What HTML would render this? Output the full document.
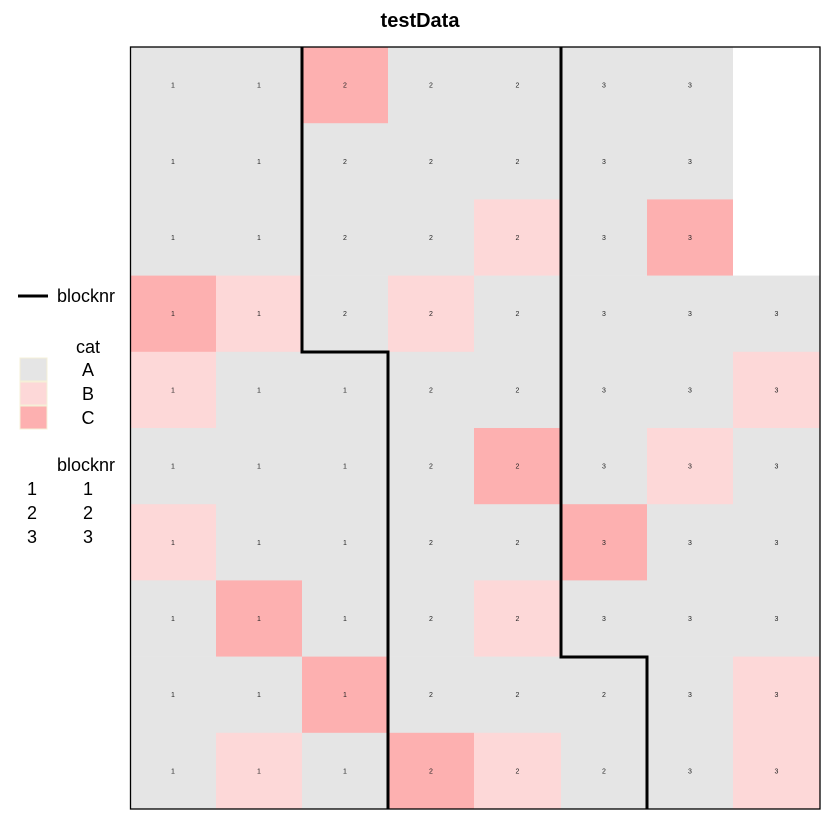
<!DOCTYPE html>
<html><head><meta charset="utf-8"><style>
html,body{margin:0;padding:0;background:#fff;}
svg{display:block;font-family:"Liberation Sans",Arial,sans-serif;}
</style></head><body>
<svg width="840" height="840" viewBox="0 0 840 840" xmlns="http://www.w3.org/2000/svg">
<rect width="840" height="840" fill="#fff"/>
<text x="420" y="27" text-anchor="middle" font-size="20" font-weight="bold" fill="#000">testData</text>
<g id="cells"></g>
<path d="M302,47 V352 H388 V809" fill="none" stroke="#000" stroke-width="3"/>
<path d="M561,47 V657 H647 V809" fill="none" stroke="#000" stroke-width="3"/>
<rect x="130.5" y="47" width="689.5" height="762" fill="none" stroke="#000" stroke-width="1.3"/>
<line x1="18" y1="296" x2="48" y2="296" stroke="#000" stroke-width="3"/>
<g font-size="18" fill="#000">
<text x="57" y="302">blocknr</text>
<text x="88" y="353" text-anchor="middle">cat</text>
<rect x="20" y="358" width="27" height="23" fill="#e5e5e5" stroke="#f5f0d8" stroke-width="1"/>
<rect x="20" y="382" width="27" height="23" fill="#fdd8d8" stroke="#f5f0d8" stroke-width="1"/>
<rect x="20" y="406" width="27" height="23" fill="#fdb0b0" stroke="#f5f0d8" stroke-width="1"/>
<text x="88" y="376" text-anchor="middle">A</text>
<text x="88" y="400" text-anchor="middle">B</text>
<text x="88" y="424" text-anchor="middle">C</text>
<text x="57" y="471">blocknr</text>
<text x="32" y="495" text-anchor="middle">1</text><text x="88" y="495" text-anchor="middle">1</text>
<text x="32" y="519" text-anchor="middle">2</text><text x="88" y="519" text-anchor="middle">2</text>
<text x="32" y="543" text-anchor="middle">3</text><text x="88" y="543" text-anchor="middle">3</text>
</g>
</svg>
<script>
var cats=["AACAAAA.","AAAAAAA.","AAAABAC.","CBABAAAA","BAAAAAAB","AAAACABA","BAAAACAA","ACAABAAA","AACAAAAB","ABACBAAB"];
var labs=["1122233.","1122233.","1122233.","11222333","11122333","11122333","11122333","11122333","11122233","11122233"];
var col={A:"#e5e5e5",B:"#fdd8d8",C:"#fdb0b0"};
var xs=[130,216,302,388,474,561,647,733,820];
var g=document.getElementById("cells"),s="";
for(var r=0;r<10;r++){var y0=47+r*76.2,y1=47+(r+1)*76.2;
for(var c=0;c<8;c++){var k=cats[r][c];if(k==".")continue;
s+='<rect x="'+xs[c]+'" y="'+y0+'" width="'+(xs[c+1]-xs[c])+'" height="'+(y1-y0+0.3)+'" fill="'+col[k]+'"/>';
s+='<text x="'+((xs[c]+xs[c+1])/2)+'" y="'+((y0+y1)/2+2.5)+'" text-anchor="middle" font-size="7" fill="#222">'+labs[r][c]+'</text>';}}
g.innerHTML=s;
</script>
</body></html>
